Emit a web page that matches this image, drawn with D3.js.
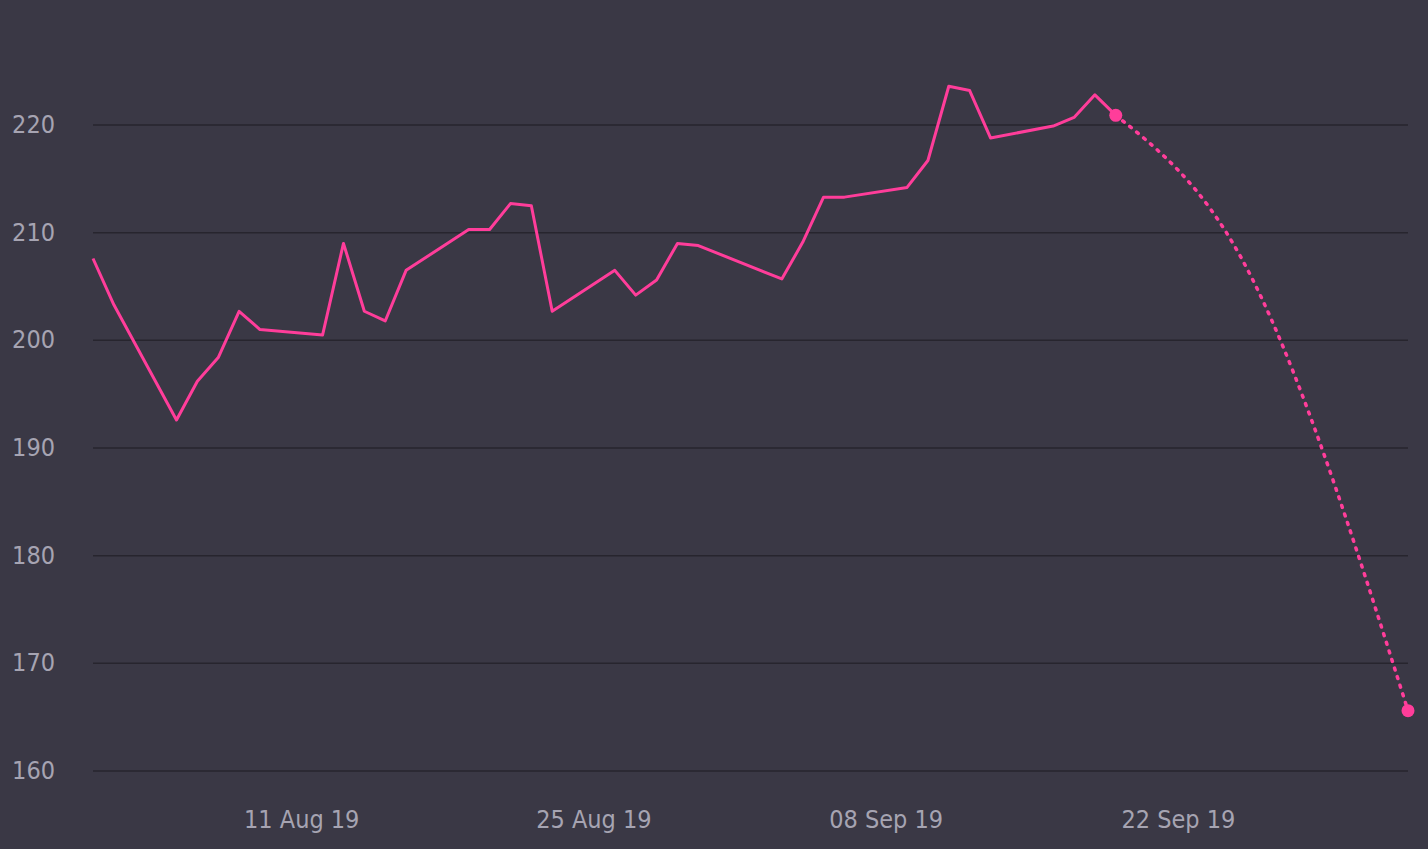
<!DOCTYPE html>
<html><head><meta charset="utf-8">
<script src="https://cdn.jsdelivr.net/npm/d3@7/dist/d3.min.js"></script>
<style>body{margin:0;background:#3a3845;}svg{display:block}</style>
</head><body><svg id="c" width="1428" height="849"></svg>
<script>
const dates = ["2019-08-01","2019-08-02","2019-08-05","2019-08-06","2019-08-07","2019-08-08","2019-08-09","2019-08-12","2019-08-13","2019-08-14","2019-08-15","2019-08-16","2019-08-19","2019-08-20","2019-08-21","2019-08-22","2019-08-23","2019-08-26","2019-08-27","2019-08-28","2019-08-29","2019-08-30","2019-09-03","2019-09-04","2019-09-05","2019-09-06","2019-09-09","2019-09-10","2019-09-11","2019-09-12","2019-09-13","2019-09-16","2019-09-17","2019-09-18","2019-09-19"];
const values = [207.6,203.3,192.6,196.2,198.4,202.7,201.0,200.5,209.0,202.7,201.8,206.5,210.3,210.3,212.7,212.5,202.7,206.5,204.2,205.6,209.0,208.8,205.7,209.1,213.3,213.3,214.2,216.7,223.6,223.2,218.8,219.9,220.7,222.8,220.9];
const forecastDates = ["2019-09-19","2019-09-25","2019-10-03"];
const forecastValues = [220.9,207.7,165.6];
const yTicks = [160,170,180,190,200,210,220];
const xTicks = ["2019-08-11","2019-08-25","2019-09-08","2019-09-22"];

const svg = d3.select("#c");
const p = d3.timeParse("%Y-%m-%d");
const x = d3.scaleTime().domain([p("2019-08-01"), p("2019-10-03")]).range([93,1408]);
const y = d3.scaleLinear().domain([160,220]).range([771,125]);
const font = "'Liberation Sans Narrow','DejaVu Sans Condensed',sans-serif";

svg.append("g").selectAll("line").data(yTicks).join("line")
  .attr("x1",93).attr("x2",1408).attr("y1",d=>y(d)).attr("y2",d=>y(d))
  .attr("stroke","#27252e").attr("stroke-width",1.5);
svg.append("g").selectAll("text").data(yTicks).join("text")
  .attr("x",55).attr("y",d=>y(d)+8).attr("text-anchor","end")
  .attr("fill","#a6a4b2").attr("font-family",font).attr("font-size",25).text(d=>d);
svg.append("g").selectAll("text").data(xTicks).join("text")
  .attr("x",d=>x(p(d))).attr("y",828).attr("text-anchor","middle")
  .attr("fill","#a6a4b2").attr("font-family",font).attr("font-size",25)
  .text(d=>d3.timeFormat("%d %b %y")(p(d)));

const pts = dates.map((d,i)=>[x(p(d)),y(values[i])]);
svg.append("path").attr("d",d3.line()(pts)).attr("fill","none")
  .attr("stroke","#ff3d9a").attr("stroke-width",3).attr("stroke-linejoin","round");
const fpts = forecastDates.map((d,i)=>[x(p(d)),y(forecastValues[i])]);
svg.append("path").attr("d",d3.line().curve(d3.curveMonotoneX)(fpts)).attr("fill","none")
  .attr("stroke","#ff3d9a").attr("stroke-width",3.5).attr("stroke-dasharray","2 7").attr("stroke-linecap","round");
svg.append("g").selectAll("circle").data([fpts[0],fpts[2]]).join("circle")
  .attr("cx",d=>d[0]).attr("cy",d=>d[1]).attr("r",6.5).attr("fill","#ff3d9a");
</script></body></html>
